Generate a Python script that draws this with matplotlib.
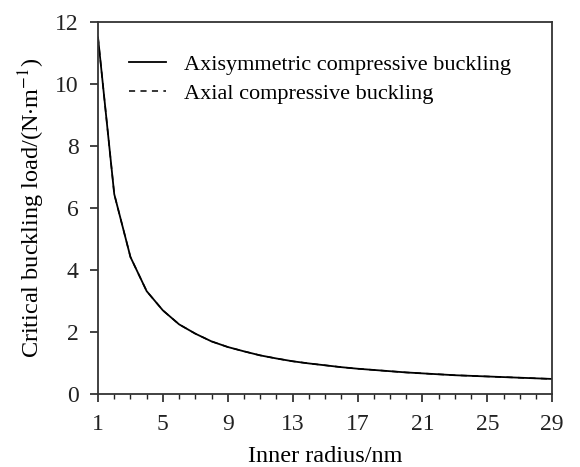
import matplotlib
matplotlib.use("Agg")
import matplotlib.pyplot as plt
from matplotlib.ticker import MultipleLocator

plt.rcParams['font.family'] = ['Liberation Serif', 'DejaVu Serif']
plt.rcParams['mathtext.fontset'] = 'stix'

# inner radius (nm) and critical buckling load (N/m)
radius = [1, 2, 3, 4, 5, 6, 7, 8, 9, 10, 11, 12, 13, 14, 15,
          16, 17, 18, 19, 20, 21, 22, 23, 24, 25, 26, 27, 28, 29]
load_axisym = [11.5, 6.45, 4.42, 3.32, 2.7, 2.25, 1.95, 1.7, 1.52, 1.38,
               1.25, 1.15, 1.06, 0.99, 0.93, 0.87, 0.82, 0.78, 0.74, 0.70,
               0.67, 0.64, 0.61, 0.59, 0.57, 0.55, 0.53, 0.51, 0.49]
load_axial = load_axisym[:]  # curves coincide

fig = plt.figure(figsize=(5.8, 4.67), dpi=100)
ax = fig.add_axes([0.169, 0.156, 0.783, 0.797])

ax.plot(radius, load_axisym, color='black', lw=1.3, ls='-',
        label='Axisymmetric compressive buckling')
ax.plot(radius, load_axial, color='black', lw=1.1, ls=(0, (4, 3.5)),
        label='Axial compressive buckling')

ax.set_xlim(1, 29)
ax.set_ylim(0, 12)
ax.xaxis.set_minor_locator(MultipleLocator(1))
ax.set_xticks([1, 5, 9, 13, 17, 21, 25, 29])
ax.set_yticks([0, 2, 4, 6, 8, 10, 12])
ax.tick_params(which='major', direction='out', length=6, width=1.2, labelsize=17,
               pad=8, colors='#222222')
ax.tick_params(which='minor', direction='out', length=3.5, width=1.0, colors='#222222')
for s in ax.spines.values():
    s.set_linewidth(1.3)
    s.set_color('#333333')

ax.set_xlabel('Inner radius/nm', fontsize=17.5, labelpad=8.5)
ax.set_ylabel(r'Critical buckling load/(N$\cdot$m$^{-1}$)', fontsize=17.5, labelpad=6)

ax.legend(loc='upper left', bbox_to_anchor=(0.068, 0.914), frameon=False, fontsize=16,
          handlelength=1.67, handletextpad=0.8, labelspacing=0.4,
          borderpad=0, borderaxespad=0)

fig.savefig('out.png', dpi=100)
